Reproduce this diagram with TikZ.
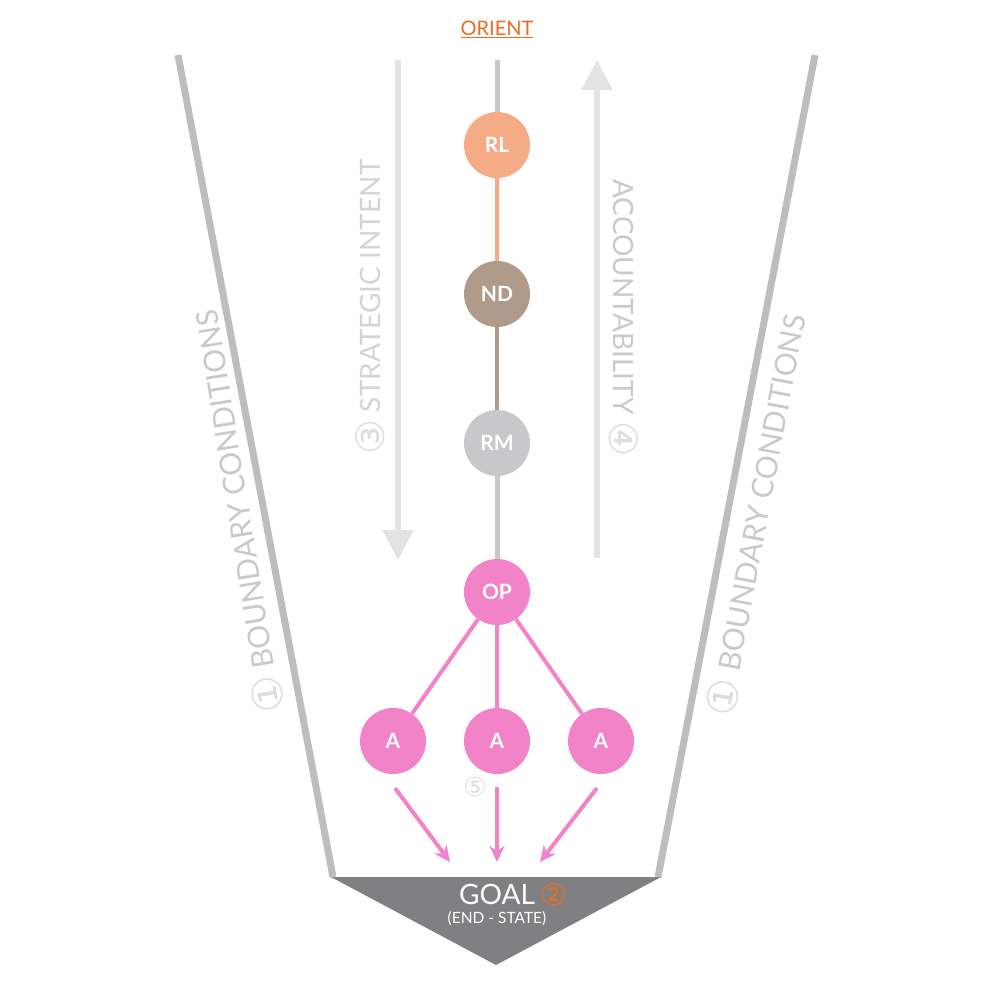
\documentclass[tikz,border=0pt]{standalone}
\usepackage{fontspec}
\setmainfont{Lato}
\newfontfamily\symfont{DejaVu Sans}
\usetikzlibrary{arrows.meta}
\definecolor{peach}{HTML}{F5AB86}
\definecolor{taupe}{HTML}{B09A89}
\definecolor{stone}{HTML}{C8C8CA}
\definecolor{rose}{HTML}{F283C8}
\definecolor{rail}{HTML}{BDBDBD}
\definecolor{flow}{HTML}{E3E3E3}
\definecolor{faint}{HTML}{C9C9C9}
\definecolor{ghost}{HTML}{DDDDDD}
\definecolor{goalgray}{HTML}{808083}
\definecolor{burnt}{HTML}{EE6A22}
\tikzstyle{role}=[circle, minimum size=66pt, inner sep=0pt, text=white, font=\bfseries\fontsize{21}{21}\selectfont]
\tikzstyle{side}=[text=faint, font=\fontsize{30}{30}\selectfont]
\tikzstyle{stem}=[line width=5pt]
\newcommand{\cnum}[1]{\raisebox{-0.12em}{\scalebox{1.4}{\color{ghost}\symfont #1}}}

\begin{document}
\begin{tikzpicture}[x=1pt, y=-1pt, node distance=149pt]
    \useasboundingbox (0,0) rectangle (1000,1000);
    % boundary rails
    \coordinate (bl1) at (178,55);   \coordinate (bl2) at (333,877);
    \coordinate (br1) at (815,55);   \coordinate (br2) at (658,877);
    \draw[rail, line width=7pt] (bl1)--(bl2);
    \draw[rail, line width=7pt] (br1)--(br2);
    \node[side, rotate=99.1]  (BCL) at (238,512) {\cnum{①} BOUNDARY CONDITIONS};
    \node[side, rotate=79.4]  (BCR) at (757,515) {\cnum{①} BOUNDARY CONDITIONS};
    % goal
    \coordinate (g1) at (331,877);  \coordinate (g2) at (661,877);  \coordinate (g3) at (496,965);
    \fill[goalgray] (g1)--(g2)--(g3)--cycle;
    \node[text=white, font=\fontsize{28}{28}\selectfont] (GOAL) at (497,894) {GOAL};
    \node[text=burnt, font=\symfont\fontsize{30}{30}\selectfont] (two) at (554,895) {②};
    \node[text=white, font=\fontsize{15.5}{15.5}\selectfont] (END) at (497,919) {(END - STATE)};
    % intent and accountability
    \coordinate (si1) at (398,60);  \coordinate (si2) at (398,560);
    \coordinate (ac1) at (597,558); \coordinate (ac2) at (597,60);
    \draw[flow, line width=6pt, -{Triangle[width=30pt, length=30pt]}] (si1)--(si2);
    \draw[flow, line width=6pt, -{Triangle[width=30pt, length=30pt]}] (ac1)--(ac2);
    \node[side, text=flow!85!gray, rotate=90, font=\fontsize{28}{28}\selectfont] (SI) at (370,307) {\cnum{③} STRATEGIC INTENT};
    \node[side, rotate=-90, font=\fontsize{28}{28}\selectfont] (AC) at (624,318) {ACCOUNTABILITY \cnum{④}};
    % chain
    \node[text=burnt, font=\fontsize{20}{20}\selectfont] (OR) at (497,29) {\underline{ORIENT}};
    \coordinate (top) at (497,60);
    \node[role, fill=peach] (RL) at (497,145) {RL};
    \node[role, fill=taupe] (ND) [below of=RL] {ND};
    \node[role, fill=stone] (RM) [below of=ND] {RM};
    \node[role, fill=rose]  (OP) [below of=RM] {OP};
    \node[role, fill=rose]  (A2) [below of=OP] {A};
    \node[role, fill=rose]  (A1) [left of=A2, node distance=104pt] {A};
    \node[role, fill=rose]  (A3) [right of=A2, node distance=104pt] {A};
    \draw[stem, stone] (top)--(RL);
    \draw[stem, peach, line width=4pt] (RL)--(ND);
    \draw[stem, taupe, line width=4pt] (ND)--(RM);
    \draw[stem, stone] (RM)--(OP);
    \draw[rose, line width=4pt] (OP)--(A1);
    \draw[rose, line width=4pt] (OP)--(A2);
    \draw[rose, line width=4pt] (OP)--(A3);
    \node[text=ghost, font=\symfont\fontsize{26}{26}\selectfont] (five) at (475,787) {⑤};
    % into the goal
    \coordinate (s1) at (395,788);  \coordinate (e1) at (450,862);
    \coordinate (s2) at (497,787);  \coordinate (e2) at (497,862);
    \coordinate (s3) at (597,788);  \coordinate (e3) at (540,862);
    \draw[rose, line width=4pt, -{Stealth[length=16pt, width=15pt, inset=5pt]}] (s1)--(e1);
    \draw[rose, line width=4pt, -{Stealth[length=16pt, width=15pt, inset=5pt]}] (s2)--(e2);
    \draw[rose, line width=4pt, -{Stealth[length=16pt, width=15pt, inset=5pt]}] (s3)--(e3);
\end{tikzpicture}
\end{document}
